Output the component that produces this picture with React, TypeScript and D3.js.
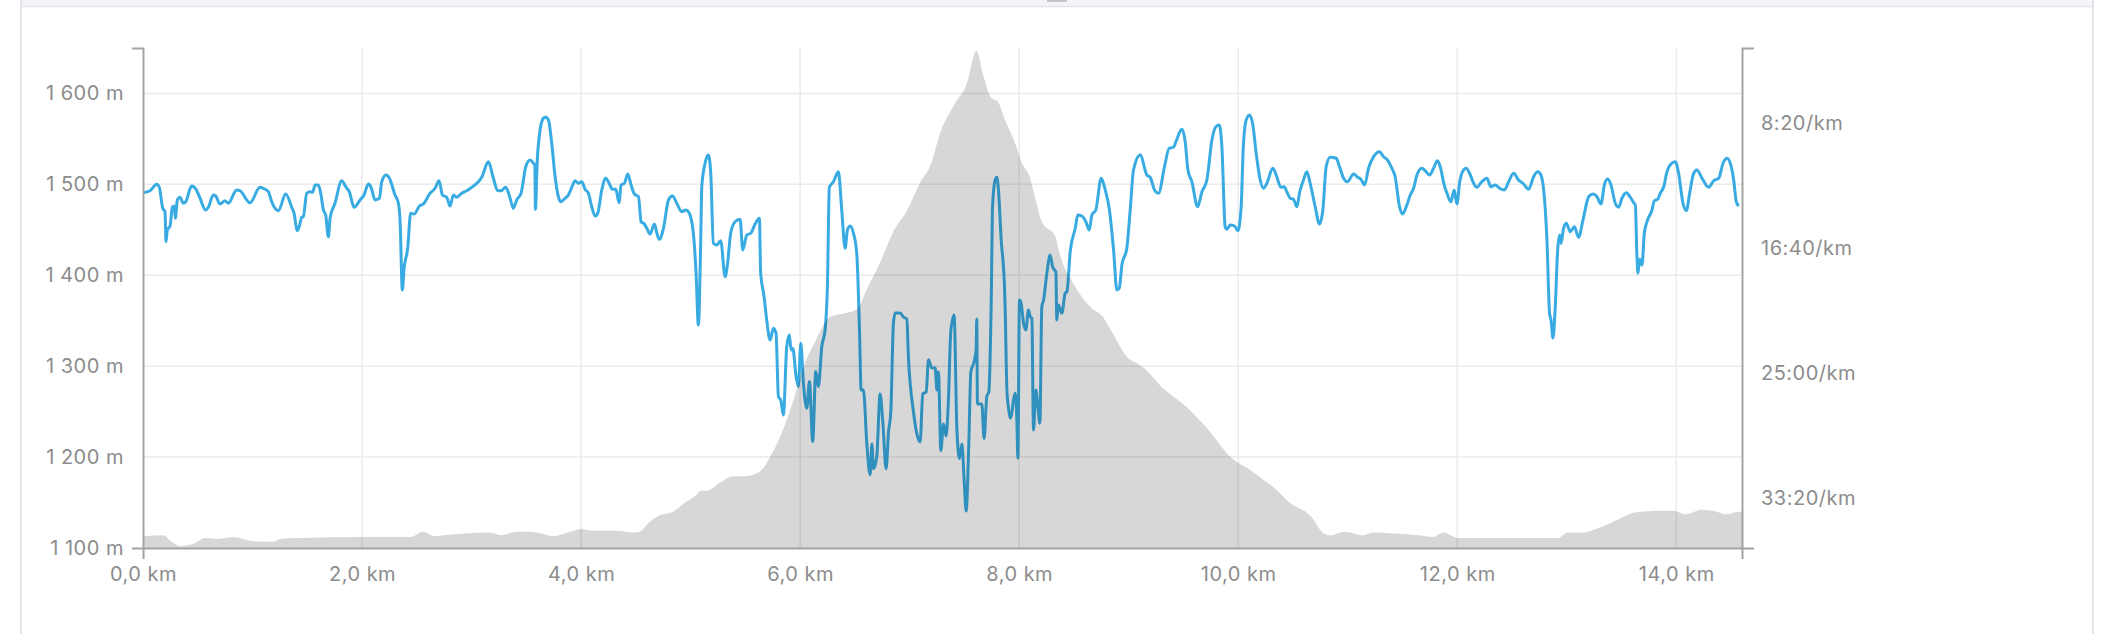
import React, { useRef, useEffect } from "react";
import * as d3 from "d3";

const distanceTicks = [0, 2, 4, 6, 8, 10, 12, 14];
const elevationTicks = [1100, 1200, 1300, 1400, 1500, 1600];
const paceTicks = [500, 1000, 1500, 2000];

// elevation profile: [km, m]
const elevation: [number, number][] = [
  [0.0, 1113], [0.19, 1114], [0.25, 1108], [0.34, 1102], [0.45, 1104], [0.57, 1111],
  [0.69, 1110], [0.83, 1112], [0.97, 1108], [1.09, 1107], [1.19, 1107], [1.25, 1110],
  [1.44, 1111], [2.0, 1112], [2.44, 1112], [2.56, 1118], [2.66, 1113], [2.75, 1114],
  [2.94, 1116], [3.17, 1117], [3.27, 1114], [3.41, 1118], [3.55, 1118], [3.64, 1116],
  [3.75, 1113], [3.88, 1117], [4.0, 1121], [4.11, 1119], [4.34, 1119], [4.47, 1117],
  [4.53, 1118], [4.63, 1129], [4.72, 1136], [4.84, 1140], [4.95, 1150], [5.05, 1158],
  [5.09, 1163], [5.15, 1163], [5.27, 1172], [5.39, 1179], [5.48, 1179], [5.63, 1184],
  [5.73, 1201], [5.82, 1223], [5.94, 1263], [6.03, 1299], [6.15, 1330], [6.27, 1354],
  [6.4, 1358], [6.52, 1363], [6.61, 1385], [6.73, 1414], [6.85, 1448], [6.97, 1470],
  [7.1, 1503], [7.19, 1521], [7.28, 1557], [7.42, 1590], [7.52, 1610], [7.61, 1647],
  [7.67, 1621], [7.74, 1596], [7.81, 1590], [7.87, 1571], [7.96, 1546], [8.02, 1525],
  [8.1, 1507], [8.15, 1483], [8.21, 1458], [8.33, 1443], [8.36, 1428], [8.51, 1388],
  [8.66, 1364], [8.76, 1355], [8.85, 1337], [8.98, 1311], [9.12, 1300], [9.33, 1274],
  [9.52, 1256], [9.7, 1234], [9.94, 1199], [10.12, 1185], [10.22, 1176], [10.34, 1165],
  [10.46, 1151], [10.67, 1134], [10.78, 1116], [10.84, 1114], [10.97, 1118], [11.14, 1114],
  [11.23, 1117], [11.42, 1116], [11.65, 1114], [11.78, 1112], [11.87, 1117], [12.01, 1111],
  [12.17, 1111], [12.92, 1111], [13.01, 1117], [13.15, 1117], [13.29, 1122], [13.48, 1132],
  [13.62, 1139], [13.86, 1141], [13.97, 1141], [14.09, 1137], [14.23, 1142], [14.37, 1140],
  [14.46, 1137], [14.56, 1140], [14.6, 1140],
];

// pace: [km, seconds per km]
const pace: [number, number][] = [
  [0.0, 779], [0.064, 771], [0.125, 745], [0.149, 757], [0.18, 841], [0.201, 855],
  [0.21, 975], [0.222, 928], [0.247, 912], [0.268, 837], [0.286, 832], [0.295, 881],
  [0.314, 808], [0.338, 797], [0.368, 821], [0.39, 815], [0.444, 752], [0.484, 765],
  [0.521, 801], [0.572, 848], [0.597, 837], [0.642, 788], [0.664, 792], [0.703, 824],
  [0.749, 811], [0.779, 821], [0.855, 768], [0.886, 771], [0.977, 819], [1.068, 757],
  [1.114, 765], [1.145, 775], [1.175, 815], [1.236, 851], [1.303, 784], [1.358, 837],
  [1.379, 861], [1.409, 931], [1.428, 912], [1.449, 877], [1.464, 875], [1.495, 781],
  [1.525, 775], [1.549, 777], [1.571, 748], [1.601, 748], [1.623, 781], [1.647, 848],
  [1.668, 868], [1.693, 955], [1.708, 881], [1.753, 821], [1.814, 731], [1.854, 757],
  [1.884, 775], [1.927, 837], [1.982, 808], [2.018, 788], [2.058, 744], [2.082, 757],
  [2.119, 808], [2.14, 805], [2.158, 801], [2.18, 735], [2.219, 708], [2.25, 721],
  [2.301, 788], [2.332, 821], [2.347, 888], [2.368, 1168], [2.384, 1081], [2.417, 1001],
  [2.444, 861], [2.475, 864], [2.524, 832], [2.56, 824], [2.621, 781], [2.667, 761],
  [2.703, 731], [2.734, 788], [2.773, 797], [2.804, 832], [2.834, 788], [2.865, 797],
  [2.91, 781], [2.956, 771], [3.002, 757], [3.062, 735], [3.093, 717], [3.154, 655],
  [3.199, 721], [3.239, 771], [3.269, 771], [3.312, 757], [3.352, 801], [3.382, 841],
  [3.412, 808], [3.452, 781], [3.495, 675], [3.534, 648], [3.565, 661], [3.578, 668],
  [3.583, 845], [3.6, 650], [3.625, 530], [3.656, 481], [3.677, 477], [3.702, 488],
  [3.732, 581], [3.763, 715], [3.793, 795], [3.814, 815], [3.854, 801], [3.884, 788],
  [3.915, 757], [3.945, 731], [3.976, 741], [4.006, 735], [4.036, 765], [4.067, 781],
  [4.097, 835], [4.128, 872], [4.152, 861], [4.189, 768], [4.225, 721], [4.256, 741],
  [4.286, 765], [4.317, 765], [4.347, 819], [4.365, 748], [4.396, 741], [4.426, 704],
  [4.457, 748], [4.487, 784], [4.524, 795], [4.548, 895], [4.578, 904], [4.6, 921],
  [4.63, 944], [4.67, 904], [4.691, 939], [4.715, 965], [4.752, 921], [4.798, 808],
  [4.834, 792], [4.874, 821], [4.919, 855], [4.956, 848], [4.986, 859], [5.025, 941],
  [5.05, 1101], [5.071, 1308], [5.092, 981], [5.102, 755], [5.132, 661], [5.162, 628],
  [5.184, 701], [5.208, 981], [5.239, 988], [5.275, 971], [5.315, 1115], [5.336, 1068],
  [5.366, 941], [5.406, 895], [5.452, 885], [5.476, 1008], [5.513, 948], [5.549, 941],
  [5.589, 904], [5.628, 881], [5.64, 1101], [5.671, 1195], [5.695, 1288], [5.726, 1368],
  [5.756, 1321], [5.78, 1341], [5.802, 1595], [5.823, 1608], [5.847, 1668], [5.878, 1394],
  [5.902, 1348], [5.917, 1408], [5.933, 1401], [5.963, 1514], [5.984, 1554], [6.006, 1381],
  [6.03, 1541], [6.061, 1641], [6.085, 1534], [6.115, 1774], [6.143, 1494], [6.167, 1554],
  [6.198, 1394], [6.228, 1328], [6.249, 1155], [6.267, 757], [6.304, 735], [6.35, 695],
  [6.38, 848], [6.411, 1001], [6.432, 928], [6.456, 912], [6.487, 941], [6.517, 1021],
  [6.542, 1328], [6.557, 1568], [6.578, 1568], [6.609, 1784], [6.639, 1907], [6.655, 1784],
  [6.67, 1883], [6.7, 1834], [6.73, 1584], [6.755, 1696], [6.785, 1883], [6.807, 1736],
  [6.828, 1656], [6.852, 1300], [6.868, 1260], [6.913, 1260], [6.943, 1276], [6.974, 1284],
  [6.989, 1438], [7.035, 1656], [7.066, 1744], [7.096, 1776], [7.12, 1584], [7.151, 1576],
  [7.172, 1447], [7.203, 1480], [7.233, 1479], [7.249, 1568], [7.263, 1496], [7.285, 1810],
  [7.309, 1704], [7.333, 1752], [7.354, 1608], [7.376, 1332], [7.406, 1268], [7.431, 1720],
  [7.455, 1842], [7.477, 1784], [7.498, 1932], [7.516, 2052], [7.54, 1786], [7.559, 1495],
  [7.589, 1454], [7.607, 1406], [7.613, 1284], [7.619, 1624], [7.659, 1624], [7.68, 1762],
  [7.705, 1592], [7.723, 1576], [7.745, 1208], [7.757, 835], [7.781, 728], [7.796, 717],
  [7.811, 768], [7.836, 968], [7.866, 1155], [7.872, 1241], [7.888, 1568], [7.903, 1641],
  [7.918, 1681], [7.933, 1661], [7.948, 1608], [7.964, 1581], [7.979, 1688], [7.988, 1841],
  [8.003, 1208], [8.018, 1221], [8.04, 1301], [8.061, 1328], [8.085, 1248], [8.101, 1275],
  [8.116, 1281], [8.131, 1728], [8.152, 1568], [8.171, 1635], [8.189, 1701], [8.207, 1235],
  [8.223, 1208], [8.253, 1101], [8.283, 1028], [8.305, 1075], [8.323, 1088], [8.335, 1095],
  [8.344, 1288], [8.359, 1228], [8.39, 1261], [8.42, 1181], [8.436, 1175], [8.466, 1015],
  [8.512, 921], [8.536, 868], [8.572, 872], [8.609, 895], [8.64, 928], [8.664, 868],
  [8.7, 848], [8.749, 721], [8.786, 768], [8.822, 841], [8.862, 1008], [8.892, 1168],
  [8.914, 1161], [8.938, 1068], [8.983, 1001], [9.014, 848], [9.044, 688], [9.105, 628],
  [9.166, 708], [9.196, 717], [9.236, 768], [9.273, 781], [9.327, 675], [9.37, 601],
  [9.41, 597], [9.431, 575], [9.486, 525], [9.516, 575], [9.541, 688], [9.577, 735],
  [9.629, 835], [9.669, 775], [9.714, 728], [9.76, 568], [9.796, 515], [9.827, 508],
  [9.851, 595], [9.881, 915], [9.897, 925], [9.927, 908], [9.967, 912], [9.997, 931],
  [10.027, 835], [10.045, 610], [10.073, 488], [10.103, 468], [10.134, 508], [10.164, 621],
  [10.201, 728], [10.231, 761], [10.262, 741], [10.316, 681], [10.347, 708], [10.389, 757],
  [10.42, 755], [10.444, 775], [10.475, 801], [10.505, 805], [10.536, 835], [10.56, 779],
  [10.596, 728], [10.627, 695], [10.657, 741], [10.703, 835], [10.742, 904], [10.773, 848],
  [10.803, 675], [10.84, 637], [10.895, 641], [10.925, 675], [10.962, 721], [10.998, 735],
  [11.053, 704], [11.09, 717], [11.12, 725], [11.154, 748], [11.19, 681], [11.236, 635],
  [11.29, 615], [11.327, 635], [11.363, 648], [11.403, 681], [11.433, 715], [11.473, 835],
  [11.5, 864], [11.54, 828], [11.571, 788], [11.601, 761], [11.632, 708], [11.677, 681],
  [11.707, 691], [11.747, 708], [11.784, 681], [11.82, 651], [11.845, 675], [11.881, 748],
  [11.912, 788], [11.942, 815], [11.972, 768], [11.997, 824], [12.021, 741], [12.042, 701],
  [12.082, 681], [12.119, 708], [12.149, 741], [12.18, 757], [12.216, 739], [12.271, 721],
  [12.307, 755], [12.347, 748], [12.386, 761], [12.43, 768], [12.469, 735], [12.515, 701],
  [12.56, 728], [12.606, 744], [12.652, 765], [12.697, 715], [12.734, 695], [12.764, 708],
  [12.795, 795], [12.819, 968], [12.843, 1261], [12.856, 1288], [12.874, 1361], [12.895, 1235],
  [12.917, 1008], [12.935, 948], [12.947, 981], [12.971, 921], [12.996, 901], [13.032, 935],
  [13.069, 915], [13.108, 957], [13.148, 888], [13.2, 795], [13.239, 784], [13.276, 795],
  [13.312, 824], [13.343, 748], [13.373, 724], [13.404, 748], [13.443, 821], [13.474, 837],
  [13.504, 801], [13.544, 779], [13.58, 797], [13.611, 819], [13.626, 828], [13.641, 1035],
  [13.65, 1101], [13.666, 1045], [13.687, 1068], [13.708, 941], [13.732, 895], [13.778, 848],
  [13.799, 811], [13.83, 805], [13.854, 781], [13.885, 755], [13.915, 695], [13.951, 664],
  [13.991, 655], [14.021, 701], [14.061, 821], [14.092, 851], [14.122, 781], [14.159, 701],
  [14.189, 688], [14.235, 721], [14.296, 757], [14.341, 731], [14.387, 721], [14.427, 661],
  [14.463, 641], [14.493, 661], [14.524, 728], [14.548, 815], [14.57, 832],
];

const locale = d3.formatLocale({
  decimal: ",",
  thousands: "\u00a0",
  grouping: [3],
  currency: ["", ""],
});

const ProfileChart: React.FC = () => {
  const ref = useRef<SVGSVGElement | null>(null);
  const width = 2106;
  const height = 634;

  useEffect(() => {
    const margin = { top: 48, right: 364, bottom: 86, left: 143 };
    const w = width - margin.left - margin.right;
    const h = height - margin.top - margin.bottom;

    const root = d3.select(ref.current);
    root.selectAll("*").remove();

    // card frame around the chart
    root.append("rect").attr("x", 0).attr("y", 0).attr("width", width).attr("height", height).attr("fill", "#fff");
    root.append("rect").attr("x", 21).attr("y", 0).attr("width", 2072).attr("height", 6).attr("fill", "#f5f5f8");
    root.append("line").attr("x1", 21).attr("x2", 2093).attr("y1", 6.5).attr("y2", 6.5).attr("stroke", "#e3e3eb").attr("stroke-width", 1.5);
    root.append("line").attr("x1", 21).attr("x2", 21).attr("y1", 0).attr("y2", height).attr("stroke", "#e3e3eb").attr("stroke-width", 2);
    root.append("line").attr("x1", 2093).attr("x2", 2093).attr("y1", 0).attr("y2", height).attr("stroke", "#e3e3eb").attr("stroke-width", 2);
    root.append("rect").attr("x", 1047).attr("y", 0).attr("width", 20).attr("height", 2).attr("fill", "#c4c4c4");

    const svg = root.append("g").attr("transform", `translate(${margin.left},${margin.top})`);

    const x = d3.scaleLinear().domain([0, 14.6]).range([0, w]);
    const yElev = d3.scaleLinear().domain([1100, 1650]).range([h, 0]);
    const yPace = d3.scaleLinear().domain([200, 2200]).range([0, h]);

    // grid
    svg
      .selectAll(".hgrid")
      .data(elevationTicks.filter((t) => t > 1100))
      .enter()
      .append("line")
      .attr("x1", 0)
      .attr("x2", w)
      .attr("y1", (d) => yElev(d))
      .attr("y2", (d) => yElev(d))
      .attr("stroke", "#ebebeb")
      .attr("stroke-width", 1.5);
    svg
      .selectAll(".vgrid")
      .data(distanceTicks.filter((t) => t > 0))
      .enter()
      .append("line")
      .attr("x1", (d) => x(d))
      .attr("x2", (d) => x(d))
      .attr("y1", 0)
      .attr("y2", h)
      .attr("stroke", "#ebebeb")
      .attr("stroke-width", 1.5);

    // pace line
    const line = d3
      .line<[number, number]>()
      .x((d) => x(d[0]))
      .y((d) => yPace(d[1]))
      .curve(d3.curveMonotoneX);
    svg
      .append("path")
      .datum(pace)
      .attr("fill", "none")
      .attr("stroke", "#38abe2")
      .attr("stroke-width", 3)
      .attr("stroke-linejoin", "round")
      .attr("d", line);

    // elevation area, translucent on top
    const area = d3
      .area<[number, number]>()
      .x((d) => x(d[0]))
      .y0(h)
      .y1((d) => yElev(d[1]))
      .curve(d3.curveMonotoneX);
    svg
      .append("path")
      .datum(elevation)
      .attr("fill", "#000")
      .attr("fill-opacity", 0.155)
      .attr("d", area);

    const axisColor = "#a3a3a3";
    const textColor = "#8c8c8c";
    const font = "Inter, 'Open Sans', sans-serif";

    const styleAxis = (g: d3.Selection<SVGGElement, unknown, null, undefined>) => {
      g.select(".domain").attr("stroke", axisColor).attr("stroke-width", 2);
      g.selectAll(".tick line").remove();
      g.selectAll(".tick text")
        .attr("fill", textColor)
        .style("font-size", "20px")
        .style("letter-spacing", "0.5px")
        .style("font-family", font);
    };

    svg
      .append("g")
      .call(
        d3
          .axisLeft(yElev)
          .tickValues(elevationTicks)
          .tickSizeInner(0)
          .tickSizeOuter(11)
          .tickPadding(19)
          .tickFormat((d) => `${locale.format(",")(d as number)} m`),
      )
      .call(styleAxis);

    svg
      .append("g")
      .attr("transform", `translate(${w},0)`)
      .call(
        d3
          .axisRight(yPace)
          .tickValues(paceTicks)
          .tickSizeInner(0)
          .tickSizeOuter(12)
          .tickPadding(19)
          .tickFormat((d) => {
            const s = d as number;
            return `${Math.floor(s / 60)}:${String(s % 60).padStart(2, "0")}/km`;
          }),
      )
      .call(styleAxis);

    svg
      .append("g")
      .attr("transform", `translate(0,${h})`)
      .call(
        d3
          .axisBottom(x)
          .tickValues(distanceTicks)
          .tickSizeInner(0)
          .tickSizeOuter(11)
          .tickPadding(19)
          .tickFormat((d) => `${locale.format(".1f")(d as number)} km`),
      )
      .call(styleAxis);
  }, []);

  return (
    <svg
      ref={ref}
      width={width}
      height={height}
      style={{ position: "absolute", left: 0, top: 0, display: "block" }}
    />
  );
};

export default function App() {
  return <ProfileChart />;
}
